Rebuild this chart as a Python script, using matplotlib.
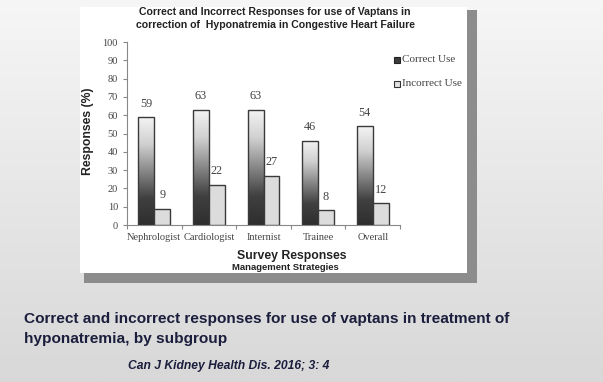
import numpy as np
import matplotlib.pyplot as plt
from matplotlib.patches import Rectangle

# data
groups = ["Nephrologist", "Cardiologist", "Internist", "Trainee", "Overall"]
correct_use = [59, 63, 63, 46, 54]
incorrect_use = [9, 22, 27, 8, 12]
yticks = list(range(0, 101, 10))

W, H = 603, 382
fig = plt.figure(figsize=(W / 100, H / 100), dpi=100)

def fx(px):
    return px / W

def fy(py):
    return 1 - py / H

# slide background: soft vertical gradient
bg = fig.add_axes([0, 0, 1, 1], zorder=0)
grad = np.linspace(0, 1, 256).reshape(-1, 1)
bg.imshow(grad, cmap=plt.matplotlib.colors.LinearSegmentedColormap.from_list(
    "bg", ["#f6f6f6", "#d8d8d8"]), aspect="auto", extent=[0, 1, 0, 1], origin="upper")
bg.set_xlim(0, 1)
bg.set_ylim(0, 1)
bg.axis("off")

# picture box with shadow
bg.add_patch(Rectangle((fx(84), fy(283)), fx(477) - fx(84), fy(10) - fy(283),
                       facecolor="#8c8c8c", edgecolor="none"))
bg.add_patch(Rectangle((fx(80), fy(273)), fx(467) - fx(80), fy(7) - fy(273),
                       facecolor="white", edgecolor="none"))

ax = fig.add_axes([fx(127), fy(225), fx(400) - fx(127), fy(42) - fy(225)], zorder=2)
ax.patch.set_alpha(0)

serif = ["Liberation Serif", "DejaVu Serif"]
sans = ["Liberation Sans", "DejaVu Sans"]
txt_gray = "#444444"
edge = "#3a3a3a"

x = np.arange(len(groups))
bw = 0.29
bars_c = ax.bar(x - bw / 2, correct_use, bw, facecolor="none", edgecolor=edge, linewidth=1.0, zorder=3)
bars_i = ax.bar(x + bw / 2, incorrect_use, bw, facecolor="#dcdcdc", edgecolor=edge, linewidth=1.0, zorder=3)

# gradient fill for the "correct" bars
cmap_bar = plt.matplotlib.colors.LinearSegmentedColormap.from_list(
    "bar", [(0, "#f4f4f4"), (0.25, "#d0d0d0"), (0.75, "#404040"), (1, "#2e2e2e")])
for b in bars_c:
    x0, y0 = b.get_x(), b.get_y()
    im = ax.imshow(grad, cmap=cmap_bar, aspect="auto", origin="upper",
                   extent=[x0, x0 + b.get_width(), y0, y0 + b.get_height()], zorder=2)
    im.set_clip_path(b)

for xi, v in zip(x, correct_use):
    ax.text(xi - bw / 2, v + 4, str(v), ha="center", va="bottom", family=serif, fontsize=8.8, color=txt_gray)
for xi, v in zip(x, incorrect_use):
    ax.text(xi + bw / 2, v + 4, str(v), ha="center", va="bottom", family=serif, fontsize=8.8, color=txt_gray)

ax.set_xlim(-0.5, len(groups) - 0.5)
ax.set_ylim(0, 100)
ax.set_yticks(yticks)
ax.set_yticklabels([str(t) for t in yticks], family=serif, fontsize=7.5, color=txt_gray)
ax.set_xticks(np.arange(-0.5, len(groups), 1))
ax.set_xticklabels([])
ax.set_xticks(x, minor=True)
ax.set_xticklabels(groups, minor=True, family=serif, fontsize=7.5, color=txt_gray)
ax.tick_params(axis="x", which="minor", length=0, pad=6)
ax.tick_params(axis="both", which="major", length=3, color="#888888", width=0.8)
for s in ["top", "right"]:
    ax.spines[s].set_visible(False)
for s in ["left", "bottom"]:
    ax.spines[s].set_color("#888888")
    ax.spines[s].set_linewidth(0.8)

# titles and axis labels
fig.text(fx(275), fy(12), "Correct and Incorrect Responses for use of Vaptans in",
         ha="center", va="center", family=sans, fontweight="bold", fontsize=7.6, color="#222222", zorder=3)
fig.text(fx(275), fy(25), "correction of  Hyponatremia in Congestive Heart Failure",
         ha="center", va="center", family=sans, fontweight="bold", fontsize=7.6, color="#222222", zorder=3)
fig.text(fx(88), fy(131), "Responses (%)", rotation=90, ha="center", va="center",
         family=sans, fontweight="bold", fontsize=8.8, color="#222222", zorder=3)
fig.text(fx(292), fy(256), "Survey Responses", ha="center", va="center",
         family=sans, fontweight="bold", fontsize=8.8, color="#222222", zorder=3)
fig.text(fx(285), fy(268), "Management Strategies", ha="center", va="center",
         family=sans, fontweight="bold", fontsize=6.8, color="#222222", zorder=3)

# legend
bg.add_patch(Rectangle((fx(394), fy(63)), fx(6), fy(0) - fy(6), facecolor="#3c3c3c", edgecolor="#222222", lw=0.8, zorder=3))
bg.add_patch(Rectangle((fx(394), fy(87)), fx(6), fy(0) - fy(6), facecolor="#e2e2e2", edgecolor="#333333", lw=0.8, zorder=3))
fig.text(fx(402), fy(60), "Correct Use", ha="left", va="center", family=serif, fontsize=8, color=txt_gray, zorder=3)
fig.text(fx(402), fy(84), "Incorrect Use", ha="left", va="center", family=serif, fontsize=8, color=txt_gray, zorder=3)

# slide caption
navy = "#1b1e3c"
fig.text(fx(24), fy(323), "Correct and incorrect responses for use of vaptans in treatment of",
         ha="left", va="baseline", family=sans, fontweight="bold", fontsize=11.1, color=navy, zorder=3)
fig.text(fx(24), fy(343), "hyponatremia, by subgroup",
         ha="left", va="baseline", family=sans, fontweight="bold", fontsize=11.1, color=navy, zorder=3)
fig.text(fx(128), fy(369), "Can J Kidney Health Dis. 2016; 3: 4",
         ha="left", va="baseline", family=sans, fontweight="bold", style="italic", fontsize=8.7, color=navy, zorder=3)

fig.savefig("out.png", dpi=100)
